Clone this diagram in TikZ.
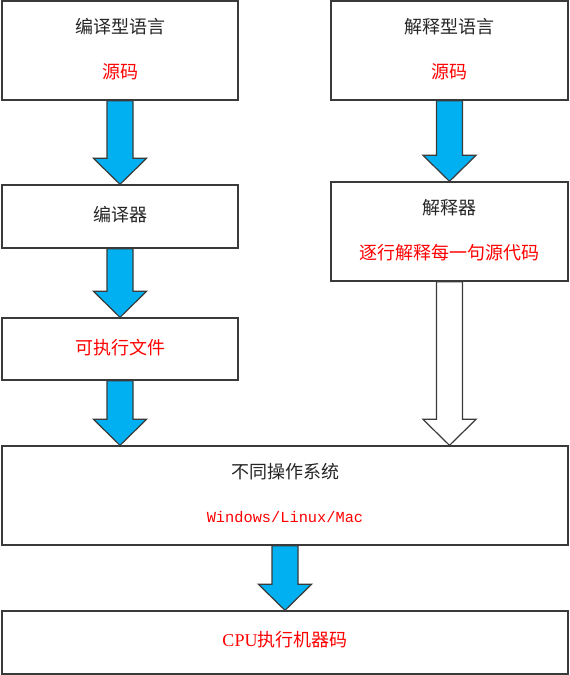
\documentclass[tikz,border=0pt]{standalone}
\usepackage{fontspec}
\setmainfont{Noto Sans CJK SC}
\newfontfamily\latinmono{Liberation Mono}
\newfontfamily\latinserif{Liberation Serif}
\usetikzlibrary{calc}
\definecolor{arrowblue}{HTML}{00B0F0}
\definecolor{textred}{HTML}{FF0000}
\definecolor{edgegray}{HTML}{3A3A3A}
\tikzset{
  box/.style={draw=edgegray, line width=1pt, fill=white, inner sep=0pt},
  title/.style={font=\fontsize{13.5}{16}\selectfont, text=black!85},
  note/.style={font=\fontsize{13.5}{16}\selectfont, text=textred},
  % block arrow from the start anchor straight down to the target anchor
  blockarrow/.style={draw=edgegray, line width=0.9pt, line join=miter,
    to path={let \p1=(\tikztostart), \p2=(\tikztotarget) in
      (\x1-9.75pt,\y1) -- (\x1-9.75pt,\y2+19.5pt) -- (\x1-19.9pt,\y2+19.5pt)
      -- (\x1,\y2) -- (\x1+19.9pt,\y2+19.5pt) -- (\x1+9.75pt,\y2+19.5pt)
      -- (\x1+9.75pt,\y1) -- cycle}},
  filledarrow/.style={blockarrow, fill=arrowblue},
  hollowarrow/.style={blockarrow, fill=white}
}
\begin{document}
\begin{tikzpicture}[x=0.75pt, y=-0.75pt]
  \useasboundingbox (0,0) rectangle (569,675);

  % left column: compiled languages
  \node[box, minimum width=236*0.75pt, minimum height=99*0.75pt] (src1) at (120,50.5) {};
  \node[title] (src1t) at (120,27) {编译型语言};
  \node[note]  (src1n) at (120,72) {源码};

  \node[box, minimum width=236*0.75pt, minimum height=63*0.75pt] (comp) at (120,216.5) {};
  \node[title] (compt) at (120,215) {编译器};

  \node[box, minimum width=236*0.75pt, minimum height=62*0.75pt] (exe) at (120,349) {};
  \node[note] (exet) at (120,348) {可执行文件};

  % right column: interpreted languages
  \node[box, minimum width=237*0.75pt, minimum height=99*0.75pt] (src2) at (449.5,50.5) {};
  \node[title] (src2t) at (449.5,27) {解释型语言};
  \node[note]  (src2n) at (449.5,72) {源码};

  \node[box, minimum width=237*0.75pt, minimum height=99*0.75pt] (interp) at (449.5,231.5) {};
  \node[title] (interpt) at (449.5,208) {解释器};
  \node[note]  (interpn) at (449.5,253) {逐行解释每一句源代码};

  % shared bottom rows
  \node[box, minimum width=566*0.75pt, minimum height=99*0.75pt] (os) at (285,495.5) {};
  \node[title] (ost) at (285,472) {不同操作系统};
  \node[note, font=\latinmono\fontsize{11.5}{14}\selectfont] (osn) at (285,517) {Windows/Linux/Mac};

  \node[box, minimum width=566*0.75pt, minimum height=63*0.75pt] (cpu) at (285,642.5) {};
  \node[note] (cput) at (285,640) {{\latinserif CPU}执行机器码};

  % flow arrows
  \draw[filledarrow] (src1.south) to (comp.north);
  \draw[filledarrow] (comp.south) to (exe.north);
  \draw[filledarrow] (exe.south) to (os.north -| exe.south);
  \draw[filledarrow] (src2.south) to (interp.north);
  \draw[hollowarrow] (interp.south) to (os.north -| interp.south);
  \draw[filledarrow] (os.south) to (cpu.north);
\end{tikzpicture}
\end{document}
